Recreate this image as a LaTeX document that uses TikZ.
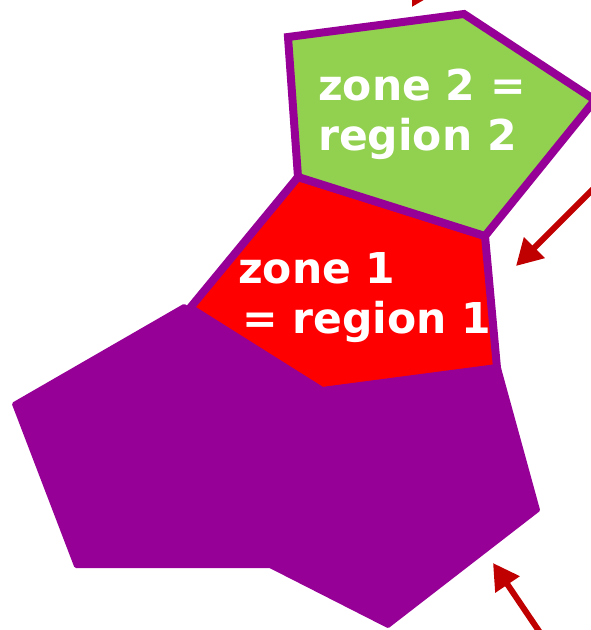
\documentclass[tikz,border=0pt]{standalone}
\usepackage{fontspec}
\setmainfont{DejaVu Sans}
\usetikzlibrary{arrows.meta}
\definecolor{zpurple}{HTML}{960096}
\definecolor{zgreen}{HTML}{92D050}
\definecolor{zred}{HTML}{FF0000}
\definecolor{zarrow}{HTML}{C00000}
\tikzset{
  zoneborder/.style={draw=zpurple, line width=8pt, line join=miter},
  zonetext/.style={text=white, font=\fontsize{42.5}{50}\selectfont\bfseries, anchor=base west, inner sep=0pt},
  redarrow/.style={draw=zarrow, line width=6pt, -{Triangle[length=26pt,width=28pt]}}
}
\begin{document}
\begin{tikzpicture}[x=1pt,y=-1pt]
\useasboundingbox (0,0) rectangle (591,630);
\begin{scope}
\clip (0,0) rectangle (591,630);
% big purple region
\fill[zpurple, draw=zpurple, line width=4pt, line join=round]
  (184,306) -- (14,404) -- (76,566) -- (270,566) -- (388,626) -- (538,510) -- (499,368) -- (322,391) -- cycle;
% zone 1 (red)
\filldraw[fill=zred, zoneborder] (298,177) -- (485,236) -- (497,368) -- (322,391) -- (190,308) -- cycle;
% zone 2 (green)
\filldraw[fill=zgreen, zoneborder] (288,37) -- (464,14) -- (595,100) -- (485,236) -- (298,177) -- cycle;
% arrows
\coordinate (a1s) at (450,-60);
\coordinate (a1e) at (412,7);
\coordinate (a2s) at (600,182);
\coordinate (a2e) at (516,266);
\coordinate (a3s) at (545,640);
\coordinate (a3e) at (493,563);
\draw[redarrow] (a1s) -- (a1e);
\draw[redarrow] (a2s) -- (a2e);
\draw[redarrow] (a3s) -- (a3e);
\end{scope}
% labels
\node[zonetext] (z2a) at (318,100) {zone 2 =};
\node[zonetext] (z2b) at (318,150) {region 2};
\node[zonetext] (z1a) at (238,283) {zone 1};
\node[zonetext] (z1b) at (242,333) {= region 1};
\end{tikzpicture}
\end{document}
